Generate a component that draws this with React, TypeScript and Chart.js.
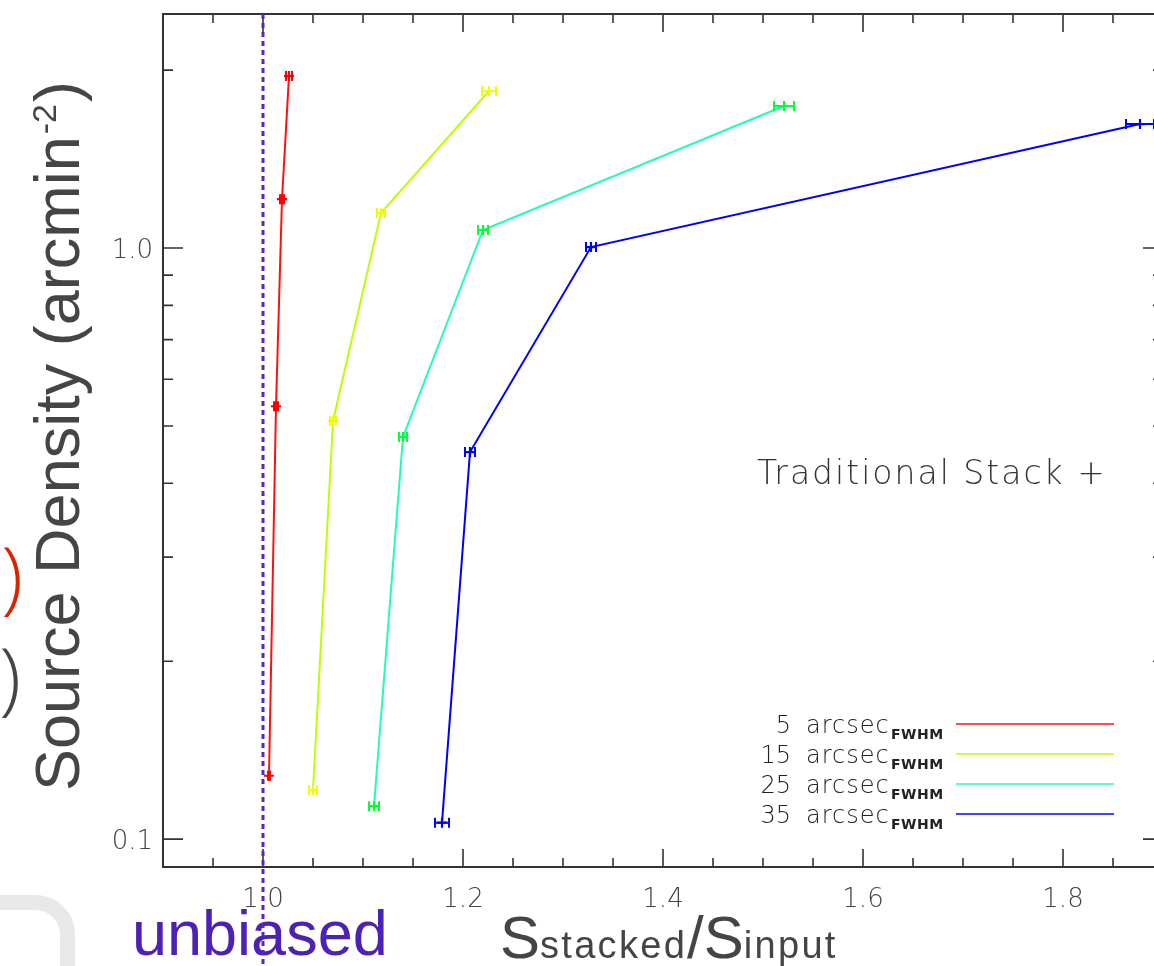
import React, { useEffect, useRef } from "react";
import { Chart, registerables } from "chart.js";

Chart.register(...registerables);

// ---------- data ----------
const seriesLabels = ["5", "15", "25", "35"];
const lineColors = ["#ff1010", "#bbff00", "#22ffaa", "#0000ff"];
const markerColors = ["#ff0000", "#eeff00", "#00ff33", "#0000ff"];

const redX = [1.006, 1.013, 1.019, 1.026];
const redY = [0.128, 0.54, 1.21, 1.954];
const redErr = [0.001, 0.002, 0.002, 0.003];

const yellowX = [1.05, 1.07, 1.118, 1.226];
const yellowY = [0.121, 0.51, 1.146, 1.844];
const yellowErr = [0.004, 0.003, 0.004, 0.007];

const cyanX = [1.111, 1.14, 1.22, 1.521];
const cyanY = [0.1137, 0.479, 1.073, 1.739];
const cyanErr = [0.005, 0.004, 0.005, 0.01];

const blueX = [1.179, 1.207, 1.328, 1.877];
const blueY = [0.1066, 0.4516, 1.004, 1.621];
const blueErr = [0.007, 0.005, 0.005, 0.014];

const xMajorTicks = [1.0, 1.2, 1.4, 1.6, 1.8];
const xTickLabels = ["1.0", "1.2", "1.4", "1.6", "1.8"];
const xMinorTicks = [0.95, 1.05, 1.1, 1.15, 1.25, 1.3, 1.35, 1.45, 1.5, 1.55, 1.65, 1.7, 1.75, 1.85];
const yMajorTicks = [0.1, 1.0];
const yTickLabels = ["0.1", "1.0"];
const yMinorTicks = [0.2, 0.3, 0.4, 0.5, 0.6, 0.7, 0.8, 0.9, 2.0];

const X_MIN = 0.9;
const X_MAX = 1.9;
const Y_MIN = 0.0897;
const Y_MAX = 2.489;
const UNBIASED_X = 1.0;

const annotationText = "Traditional Stack +";
const legendUnit = "arcsec";
const legendSub = "FWHM";

export default function App() {
  const ref = useRef<HTMLCanvasElement>(null);

  useEffect(() => {
    const canvas = ref.current!;
    const seriesX = [redX, yellowX, cyanX, blueX];
    const seriesY = [redY, yellowY, cyanY, blueY];
    const seriesErr = [redErr, yellowErr, cyanErr, blueErr];

    const datasets = seriesX.map((xs, i) => ({
      label: seriesLabels[i] + " arcsec",
      data: xs.map((x, j) => ({ x, y: seriesY[i][j] })),
      borderColor: lineColors[i],
      backgroundColor: lineColors[i],
      borderWidth: 2,
      showLine: true,
      fill: false,
      tension: 0,
      pointStyle: "cross" as const,
      pointRadius: 5,
      pointBorderWidth: 2.2,
      pointBorderColor: markerColors[i],
      pointBackgroundColor: markerColors[i],
    }));

    const decor = {
      id: "decor",
      afterDatasetsDraw(chart: any) {
        const ctx = chart.ctx as CanvasRenderingContext2D;
        const xs = chart.scales.x;
        const ys = chart.scales.y;
        ctx.save();
        // error bars
        seriesX.forEach((arr, i) => {
          ctx.strokeStyle = markerColors[i];
          ctx.lineWidth = 2;
          arr.forEach((x, j) => {
            const e = seriesErr[i][j];
            const py = ys.getPixelForValue(seriesY[i][j]);
            const p0 = xs.getPixelForValue(x - e);
            const p1 = xs.getPixelForValue(x + e);
            ctx.beginPath();
            ctx.moveTo(p0, py);
            ctx.lineTo(p1, py);
            ctx.moveTo(p0, py - 5);
            ctx.lineTo(p0, py + 5);
            ctx.moveTo(p1, py - 5);
            ctx.lineTo(p1, py + 5);
            ctx.stroke();
          });
        });
        ctx.restore();
      },
      afterDraw(chart: any) {
        const ctx = chart.ctx as CanvasRenderingContext2D;
        const xs = chart.scales.x;
        const ys = chart.scales.y;
        const a = chart.chartArea;
        ctx.save();

        // frame
        ctx.strokeStyle = "#333";
        ctx.lineWidth = 2;
        ctx.beginPath();
        ctx.rect(a.left, a.top, a.right - a.left, a.bottom - a.top);
        ctx.stroke();

        // ticks
        ctx.lineWidth = 1.6;
        const xt = (v: number, len: number) => {
          const px = xs.getPixelForValue(v);
          ctx.beginPath();
          ctx.moveTo(px, a.bottom);
          ctx.lineTo(px, a.bottom - len);
          ctx.moveTo(px, a.top);
          ctx.lineTo(px, a.top + len);
          ctx.stroke();
        };
        xMajorTicks.forEach((v) => xt(v, 18));
        xMinorTicks.forEach((v) => xt(v, 9));
        const yt = (v: number, len: number) => {
          const py = ys.getPixelForValue(v);
          ctx.beginPath();
          ctx.moveTo(a.left, py);
          ctx.lineTo(a.left + len, py);
          ctx.moveTo(a.right, py);
          ctx.lineTo(a.right - len, py);
          ctx.stroke();
        };
        yMajorTicks.forEach((v) => yt(v, 20));
        yMinorTicks.forEach((v) => yt(v, 10));

        // tick labels
        ctx.fillStyle = "#444";
        ctx.font = "200 26px 'DejaVu Sans'";
        ctx.textAlign = "center";
        ctx.textBaseline = "alphabetic";
        xMajorTicks.forEach((v, i) => {
          ctx.fillText(xTickLabels[i], xs.getPixelForValue(v), 907);
        });
        ctx.textAlign = "right";
        yMajorTicks.forEach((v, i) => {
          ctx.fillText(yTickLabels[i], 153, ys.getPixelForValue(v) + 10);
        });

        // annotation
        ctx.fillStyle = "#333";
        ctx.textAlign = "left";
        ctx.font = "200 33px 'DejaVu Sans'";
        (ctx as any).letterSpacing = "2px";
        ctx.fillText(annotationText, 757, 484);

        // legend
        seriesLabels.forEach((lab, i) => {
          const ly = 724 + i * 30;
          ctx.fillStyle = "#222";
          ctx.font = "200 24px 'DejaVu Sans'";
          (ctx as any).letterSpacing = "0px";
          ctx.textAlign = "right";
          ctx.fillText(lab, 791, ly + 9);
          ctx.textAlign = "left";
          (ctx as any).letterSpacing = "1px";
          ctx.fillText(legendUnit, 806, ly + 9);
          (ctx as any).letterSpacing = "0.5px";
          ctx.font = "bold 14px 'DejaVu Sans'";
          ctx.fillText(legendSub, 891, ly + 15);
          ctx.strokeStyle = lineColors[i];
          ctx.lineWidth = 1.5;
          ctx.beginPath();
          ctx.moveTo(956, ly);
          ctx.lineTo(1114, ly);
          ctx.stroke();
        });
        (ctx as any).letterSpacing = "0px";

        // y axis title (rotated)
        ctx.fillStyle = "#454545";
        ctx.save();
        ctx.translate(79, 791);
        ctx.rotate(-Math.PI / 2);
        ctx.textAlign = "left";
        ctx.font = "63px 'Liberation Sans'";
        const t1 = "Source Density (arcmin";
        ctx.fillText(t1, 0, 0);
        let off = ctx.measureText(t1).width;
        ctx.font = "34px 'Liberation Sans'";
        ctx.fillText("-2", off + 2, -23);
        off += ctx.measureText("-2").width + 4;
        ctx.font = "63px 'Liberation Sans'";
        ctx.fillText(")", off, 0);
        ctx.restore();

        // left-edge fragments of surrounding slide
        ctx.font = "300 80px 'Open Sans'";
        ctx.textAlign = "right";
        ctx.fillStyle = "#dd2200";
        ctx.fillText("s)", 23, 604);
        ctx.fillStyle = "#454545";
        ctx.fillText("s)", 21, 705);

        // rounded box outline at bottom-left
        ctx.strokeStyle = "#e8e8e8";
        ctx.lineWidth = 15;
        ctx.beginPath();
        (ctx as any).roundRect(-300, 902.5, 367.5, 300, 32);
        ctx.stroke();

        // x axis title
        ctx.fillStyle = "#454545";
        ctx.textAlign = "left";
        let xx = 500;
        const parts: [string, number][] = [["S", 60], ["stacked", 38], ["/", 60], ["S", 60], ["input", 38]];
        parts.forEach(([s, f]) => {
          ctx.font = `${f}px 'Liberation Sans'`;
          (ctx as any).letterSpacing = f < 50 ? "2.3px" : "0px";
          ctx.fillText(s, xx, 958);
          xx += ctx.measureText(s).width;
        });
        (ctx as any).letterSpacing = "0px";

        // unbiased label
        ctx.fillStyle = "#4c22b4";
        ctx.font = "63px 'Liberation Sans'";
        ctx.fillText("unbiased", 132, 955);

        // unbiased dotted line
        const ux = xs.getPixelForValue(UNBIASED_X);
        ctx.strokeStyle = "#5428c0";
        ctx.lineWidth = 3;
        ctx.setLineDash([5, 4]);
        ctx.beginPath();
        ctx.moveTo(ux, a.top);
        ctx.lineTo(ux, 966);
        ctx.stroke();
        ctx.setLineDash([]);

        ctx.restore();
      },
    };

    const chart = new Chart(canvas, {
      type: "scatter",
      data: { datasets: datasets as any },
      options: {
        animation: false,
        responsive: false,
        devicePixelRatio: 1,
        layout: { padding: { left: 163, top: 14, right: 37, bottom: 99 } },
        plugins: { legend: { display: false }, tooltip: { enabled: false } },
        scales: {
          x: { type: "linear", min: X_MIN, max: X_MAX, display: false },
          y: { type: "logarithmic", min: Y_MIN, max: Y_MAX, display: false },
        },
      },
      plugins: [decor as any],
    });
    return () => chart.destroy();
  }, []);

  return (
    <div
      style={{
        position: "fixed",
        left: 0,
        top: 0,
        width: 1154,
        height: 966,
        overflow: "hidden",
        background: "#fff",
      }}
    >
      <canvas ref={ref} width={1200} height={966} style={{ display: "block" }} />
    </div>
  );
}
